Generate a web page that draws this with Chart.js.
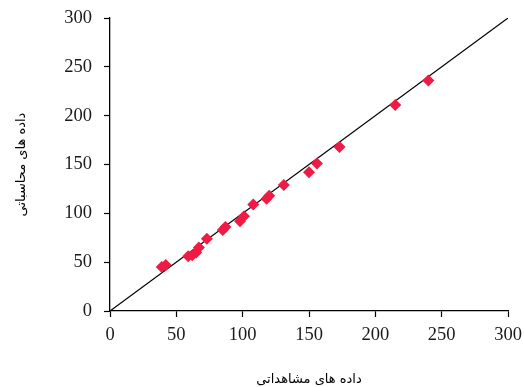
<!DOCTYPE html>
<html>
<head>
<meta charset="utf-8">
<script src="https://cdn.jsdelivr.net/npm/chart.js@4/dist/chart.umd.min.js"></script>
<style>
  html, body { margin: 0; padding: 0; background: #ffffff; }
  #wrap { width: 524px; height: 387px; }
</style>
</head>
<body>
<div id="wrap"><canvas id="c" width="524" height="387"></canvas></div>
<script>
// Observed values (x) and computed values (y)
const observed = [39, 42, 59, 62, 65, 67, 73, 85, 87, 98, 101, 108, 118, 120, 131, 150, 156, 173, 215, 240];
const computed = [45, 47, 56, 57, 60, 65, 74, 83, 86, 92, 97, 109, 115, 118, 129, 142, 151, 168, 211, 236];
// 1:1 reference line end points
const lineX = [0, 300];
const lineY = [0, 300];
const tickValues = [0, 50, 100, 150, 200, 250, 300];
const xTitle = 'داده های مشاهداتی';
const yTitle = 'داده های محاسباتی';

const points = observed.map((v, i) => ({ x: v, y: computed[i] }));
const linePts = lineX.map((v, i) => ({ x: v, y: lineY[i] }));

const tickFont = { family: '"Liberation Serif", "Times New Roman", serif', size: 18.5 };
const titleFont = { family: '"DejaVu Sans", "Noto Sans", sans-serif', size: 13 };

new Chart(document.getElementById('c'), {
  type: 'scatter',
  data: {
    datasets: [
      {
        type: 'line',
        data: linePts,
        borderColor: '#000000',
        borderWidth: 1.2,
        pointRadius: 0,
        fill: false,
        order: 2
      },
      {
        data: points,
        pointStyle: 'rectRot',
        pointRadius: 6,
        backgroundColor: '#ee1c44',
        borderColor: '#ee1c44',
        borderWidth: 0,
        order: 1
      }
    ]
  },
  options: {
    responsive: false,
    animation: false,
    layout: { padding: { top: 18, right: 16, left: 0, bottom: 0 } },
    plugins: { legend: { display: false }, tooltip: { enabled: false } },
    scales: {
      x: {
        type: 'linear',
        min: 0, max: 300,
        afterBuildTicks: (s) => { s.ticks = tickValues.map(v => ({ value: v })); },
        afterFit: (s) => { s.height = 76; s.paddingLeft = 0; s.paddingRight = 0; },
        grid: { drawOnChartArea: false, drawTicks: true, tickLength: 6, color: '#000000', tickWidth: 1.2 },
        border: { display: true, color: '#000000', width: 1.3 },
        ticks: { color: '#1a1a1a', font: tickFont, padding: 7, maxRotation: 0 },
        title: { display: true, text: xTitle, color: '#000000', font: titleFont, padding: { top: 0, bottom: 0 } }
      },
      y: {
        type: 'linear',
        min: 0, max: 300,
        afterBuildTicks: (s) => { s.ticks = tickValues.map(v => ({ value: v })); },
        afterFit: (s) => { s.width = 110; s.paddingTop = 0; s.paddingBottom = 0; },
        grid: { drawOnChartArea: false, drawTicks: true, tickLength: 6, color: '#000000', tickWidth: 1.2 },
        border: { display: true, color: '#000000', width: 1.3 },
        ticks: { color: '#1a1a1a', font: tickFont, padding: 12 },
        title: { display: true, text: yTitle, color: '#000000', font: titleFont, padding: { top: 14, bottom: 0 } }
      }
    }
  }
});
</script>
</body>
</html>
